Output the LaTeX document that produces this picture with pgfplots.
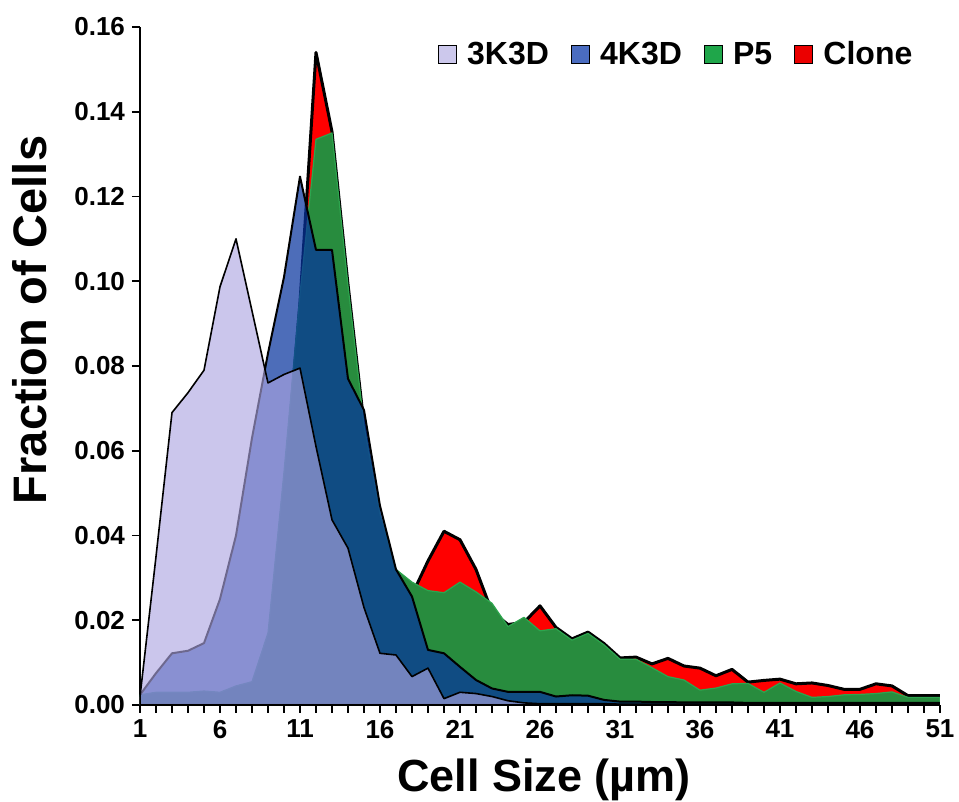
\documentclass[border=0pt]{standalone}
\usepackage{fontspec}
\setmainfont{Liberation Sans}
\usepackage{pgfplots}
\usepackage{pgfplotstable}
\pgfplotsset{compat=1.18}

\definecolor{c3k}{RGB}{173,165,225}
\definecolor{c4k}{RGB}{8,52,158}
\definecolor{cp5}{RGB}{40,140,62}
\definecolor{cp5line}{RGB}{45,165,78}
\definecolor{cclone}{RGB}{255,0,0}
\definecolor{l3k}{RGB}{204,200,236}
\definecolor{l4k}{RGB}{74,108,192}
\definecolor{lp5}{RGB}{31,166,74}
\definecolor{lclone}{RGB}{235,0,0}

% cell size distribution, fraction of cells
\pgfplotstableread{
x  k3      k4      p5      clone
1  0.0020  0.0024  0.0024  0.0020
2  0.0350  0.0075  0.0030  0.0020
3  0.0690  0.0122  0.0030  0.0020
4  0.0737  0.0128  0.0030  0.0020
5  0.0790  0.0146  0.0033  0.0020
6  0.0987  0.0250  0.0030  0.0020
7  0.1100  0.0400  0.0045  0.0030
8  0.0930  0.0630  0.0055  0.0040
9  0.0760  0.0830  0.0170  0.0120
10 0.0780  0.1010  0.0550  0.0500
11 0.0795  0.1247  0.0970  0.0950
12 0.0610  0.1074  0.1335  0.1540
13 0.0437  0.1074  0.1350  0.1353
14 0.0370  0.0770  0.0990  0.0993
15 0.0230  0.0696  0.0660  0.0663
16 0.0122  0.0470  0.0450  0.0430
17 0.0118  0.0320  0.0320  0.0300
18 0.0067  0.0256  0.0290  0.0260
19 0.0087  0.0130  0.0270  0.0340
20 0.0015  0.0122  0.0265  0.0410
21 0.0030  0.0090  0.0290  0.0390
22 0.0027  0.0059  0.0267  0.0320
23 0.0020  0.0039  0.0240  0.0220
24 0.0010  0.0031  0.0185  0.0190
25 0.0005  0.0031  0.0207  0.0195
26 0.0003  0.0031  0.0175  0.0234
27 0.0003  0.0020  0.0180  0.0183
28 0.0003  0.0023  0.0153  0.0156
29 0.0003  0.0022  0.0169  0.0172
30 0.0003  0.0012  0.0142  0.0145
31 0.0002  0.0008  0.0108  0.0111
32 0.0002  0.0008  0.0108  0.0113
33 0.0002  0.0007  0.0088  0.0097
34 0.0002  0.0007  0.0067  0.0110
35 0.0002  0.0006  0.0059  0.0092
36 0.0002  0.0006  0.0035  0.0087
37 0.0002  0.0006  0.0040  0.0069
38 0.0002  0.0006  0.0050  0.0084
39 0.0002  0.0005  0.0051  0.0054
40 0.0002  0.0005  0.0030  0.0058
41 0.0002  0.0005  0.0052  0.0061
42 0.0002  0.0005  0.0032  0.0050
43 0.0002  0.0005  0.0018  0.0052
44 0.0002  0.0005  0.0020  0.0046
45 0.0002  0.0005  0.0024  0.0037
46 0.0002  0.0005  0.0025  0.0037
47 0.0002  0.0005  0.0027  0.0050
48 0.0002  0.0005  0.0031  0.0045
49 0.0002  0.0005  0.0018  0.0022
50 0.0002  0.0005  0.0018  0.0022
51 0.0002  0.0005  0.0018  0.0022
}\cells

\begin{document}
\begin{tikzpicture}
\useasboundingbox (-70pt,-48.5pt) rectangle (409.5pt,352.5pt);
\begin{axis}[
    scale only axis,
    width=400pt, height=339pt,
    xmin=1, xmax=51, ymin=0, ymax=0.16,
    axis x line=bottom, axis y line=left,
    axis line style={-, line width=1pt},
    xtick={1,6,...,51}, minor xtick={1,...,51},
    ytick={0,0.02,...,0.16},
    tick align=outside,
    major tick length=4pt, minor tick length=4pt,
    every tick/.style={black, line width=0.8pt},
    y tick label style={/pgf/number format/.cd, fixed, fixed zerofill, precision=2},
    scaled y ticks=false,
    /pgf/number format/assume math mode=true,
    ticklabel style={font=\bfseries\fontsize{13}{15}\selectfont},
    every axis x label/.style={at={(axis description cs:0.505,-0.111)}, anchor=center,
        font=\bfseries\fontsize{22.5}{26}\selectfont},
    every axis y label/.style={at={(axis description cs:-0.1375,0.568)}, anchor=center, rotate=90,
        font=\bfseries\fontsize{23.5}{27}\selectfont},
    xlabel={Cell Size (µm)},
    ylabel={Fraction of Cells},
    legend columns=4,
    legend style={at={(0.976,0.959)}, anchor=east, draw=none, fill=none,
        font=\bfseries\fontsize{16}{18}\selectfont,
        nodes={inner xsep=1pt},
        /tikz/every odd column/.append style={column sep=4pt},
        /tikz/every even column/.append style={column sep=10pt}},
    legend image code/.code={\draw[#1] (0pt,-4.5pt) rectangle (9pt,4.5pt);},
]
\addlegendimage{fill=l3k, draw=black, line width=0.6pt}
\addlegendentry{3K3D}
\addlegendimage{fill=l4k, draw=black, line width=0.6pt}
\addlegendentry{4K3D}
\addlegendimage{fill=lp5, draw=black, line width=0.6pt}
\addlegendentry{P5}
\addlegendimage{fill=lclone, draw=black, line width=0.6pt}
\addlegendentry{Clone}

\addplot[forget plot, fill=cclone, draw=black, line width=1.5pt, line join=round] table[x=x, y=clone] {\cells} \closedcycle;
\addplot[forget plot, fill=cp5, draw=cp5line, line width=0.6pt, line join=round] table[x=x, y=p5] {\cells} \closedcycle;
\addplot[forget plot, fill=c4k, fill opacity=0.72, draw=black, line width=1pt, line join=round] table[x=x, y=k4] {\cells} \closedcycle;
\addplot[forget plot, fill=c3k, fill opacity=0.635, draw=black, line width=0.8pt, line join=round] table[x=x, y=k3] {\cells} \closedcycle;
\end{axis}
\end{tikzpicture}
\end{document}
